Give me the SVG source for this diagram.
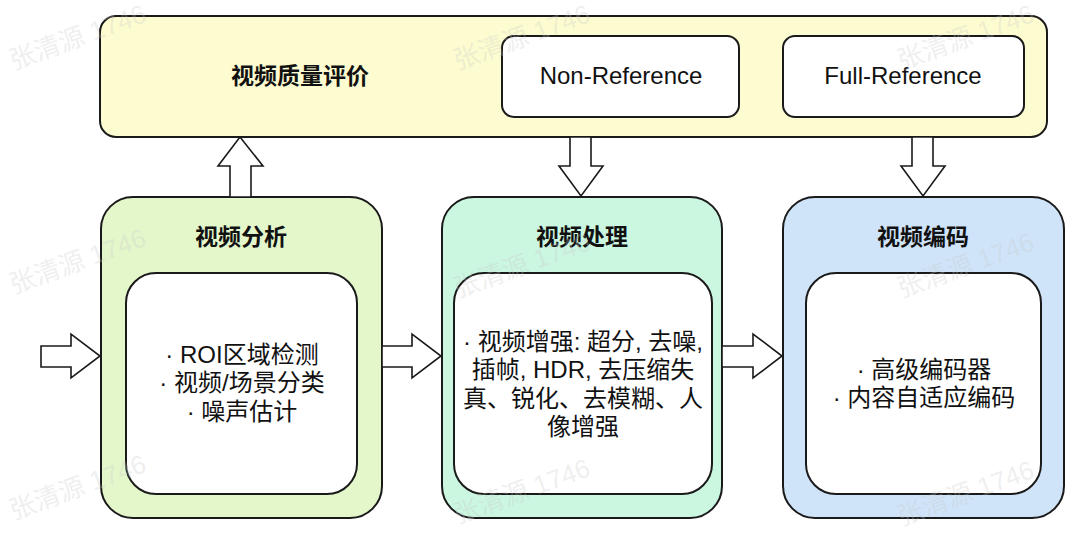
<svg xmlns="http://www.w3.org/2000/svg" width="1080" height="535" viewBox="0 0 1080 535">
<style>
.box{stroke:#1a1a1a;stroke-width:2}
.inner{fill:#ffffff;stroke:#1a1a1a;stroke-width:2}
.arrow{fill:#ffffff;stroke:#1a1a1a;stroke-width:1.6;stroke-linejoin:miter}
.title{font-family:"Liberation Sans","Noto Sans CJK SC",sans-serif;font-size:23px;font-weight:bold;fill:#111;text-anchor:middle}
.body{font-family:"Liberation Sans","Noto Sans CJK SC",sans-serif;font-size:24px;fill:#111;text-anchor:middle}
.wm{font-family:"Liberation Sans","Noto Sans CJK SC",sans-serif;font-size:26px;fill:#c8c8c8;fill-opacity:0.3;text-anchor:middle}
</style>
<rect width="1080" height="535" fill="#ffffff"/>
<g id="quality">
<rect class="box" x="100" y="16" width="947" height="121" rx="16" fill="#fdfcd0"/>
<text class="title" x="300" y="84">视频质量评价</text>
</g>
<g id="nonref">
<rect class="inner" x="502" y="36" width="237" height="81" rx="12"/>
<text class="body" x="621" y="84">Non-Reference</text>
</g>
<g id="fullref">
<rect class="inner" x="783" y="36" width="241" height="81" rx="12"/>
<text class="body" x="903" y="84">Full-Reference</text>
</g>
<g id="analysis">
<rect class="box" x="101" y="197" width="281" height="321" rx="32" fill="#e4f7cb"/>
<text class="title" x="241" y="245">视频分析</text>
<rect class="inner" x="126" y="273" width="231" height="221" rx="30"/>
<text class="body" x="242" y="363">· ROI区域检测</text>
<text class="body" x="242" y="391">· 视频/场景分类</text>
<text class="body" x="242" y="420">· 噪声估计</text>
</g>
<g id="processing">
<rect class="box" x="442" y="197" width="280" height="321" rx="32" fill="#cbf7e1"/>
<text class="title" x="582" y="245">视频处理</text>
<rect class="inner" x="454" y="273" width="258" height="221" rx="30"/>
<text class="body" x="583" y="350">· 视频增强: 超分, 去噪,</text>
<text class="body" x="583" y="378">插帧, HDR, 去压缩失</text>
<text class="body" x="583" y="407">真、锐化、去模糊、人</text>
<text class="body" x="583" y="435">像增强</text>
</g>
<g id="coding">
<rect class="box" x="783" y="197" width="281" height="321" rx="32" fill="#cfe4f9"/>
<text class="title" x="923" y="245">视频编码</text>
<rect class="inner" x="806" y="273" width="235" height="221" rx="30"/>
<text class="body" x="924" y="378">· 高级编码器</text>
<text class="body" x="924" y="406">· 内容自适应编码</text>
</g>
<g id="connectors">
<polygon class="arrow" points="230,197 230,166 218,166 240,137 263,166 251,166 251,197"/>
<polygon class="arrow" points="570,137 591,137 591,166 603,166 581,196 559,166 570,166"/>
<polygon class="arrow" points="912,137 933,137 933,166 945,166 923,196 901,166 912,166"/>
<polygon class="arrow" points="41,346 71,346 71,334 100,356 71,378 71,367 41,367"/>
<polygon class="arrow" points="382,346 412,346 412,334 441,356 412,378 412,367 382,367"/>
<polygon class="arrow" points="722,346 753,346 753,334 782,356 753,378 753,367 722,367"/>
</g>
<g id="watermarks">
<text class="wm" transform="rotate(-20 78 38)" x="78" y="46">张清源 1746</text>
<text class="wm" transform="rotate(-20 522 38)" x="522" y="46">张清源 1746</text>
<text class="wm" transform="rotate(-20 966 38)" x="966" y="46">张清源 1746</text>
<text class="wm" transform="rotate(-20 78 262)" x="78" y="270">张清源 1746</text>
<text class="wm" transform="rotate(-20 522 266)" x="522" y="274">张清源 1746</text>
<text class="wm" transform="rotate(-20 966 266)" x="966" y="274">张清源 1746</text>
<text class="wm" transform="rotate(-20 78 488)" x="78" y="496">张清源 1746</text>
<text class="wm" transform="rotate(-20 522 492)" x="522" y="500">张清源 1746</text>
<text class="wm" transform="rotate(-20 966 494)" x="966" y="502">张清源 1746</text>
</g>
</svg>
